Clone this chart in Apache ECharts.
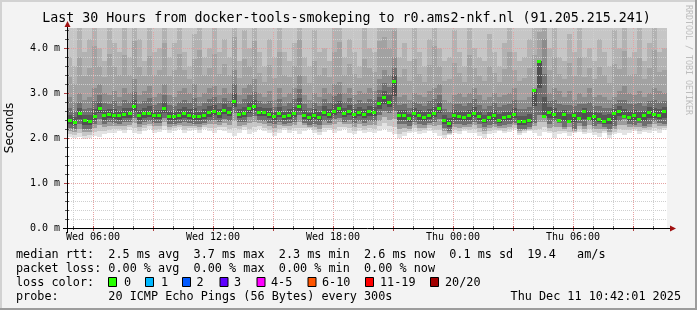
<!DOCTYPE html>
<html><head><meta charset="utf-8">
<script src="https://cdn.jsdelivr.net/npm/echarts@6/dist/echarts.min.js"></script>
<style>html,body{margin:0;padding:0;background:#f3f3f3}#c{width:697px;height:310px}</style>
</head><body><div id="c"></div>
<script>
// ---- data ----
const startHour = 4.7;    // Wed 04:42
const endHour = 34.7;     // Thu 10:42
const stepHours = 0.25;   // 15 min columns
const xTickHours = [6, 12, 18, 24, 30];
const xTickLabels = ['Wed 06:00', 'Wed 12:00', 'Wed 18:00', 'Thu 00:00', 'Thu 06:00'];
const yTicks = [0, 1, 2, 3, 4];
const yTickLabels = ['0.0 m', '1.0 m', '2.0 m', '3.0 m', '4.0 m'];
const yMax = 4.444;

// median rtt (ms)
const median = [
  2.39,2.36,2.55,2.39,2.37,2.48,2.67,2.50,2.53,2.52,
  2.50,2.53,2.55,2.70,2.50,2.55,2.55,2.52,2.50,2.67,
  2.48,2.49,2.50,2.55,2.52,2.49,2.48,2.52,2.57,2.60,2.55,
  2.63,2.58,2.83,2.53,2.56,2.67,2.70,2.58,2.58,2.53,
  2.48,2.56,2.48,2.52,2.56,2.72,2.52,2.46,2.52,2.46,
  2.58,2.53,2.61,2.67,2.56,2.61,2.53,2.58,2.53,2.59,
  2.58,2.78,2.90,2.81,3.27,2.52,2.50,2.44,2.56,2.50,
  2.46,2.52,2.56,2.67,2.41,2.33,2.50,2.48,2.46,2.50,
  2.56,2.48,2.41,2.46,2.50,2.41,2.46,2.48,2.53,2.37,
  2.37,2.41,3.07,3.70,2.48,2.58,2.53,2.41,2.53,2.37,
  2.52,2.44,2.59,2.44,2.48,2.43,2.37,2.43,2.56,2.61,
  2.48,2.46,2.52,2.43,2.50,2.58,2.53,2.50,2.59
];
// lowest ping (bottom edge of smoke)
const smokeLow = [
  2.02,2.00,2.03,1.98,2.00,2.05,2.02,2.08,2.10,2.12,
  2.15,2.10,2.18,2.12,2.08,2.15,2.20,2.10,2.14,2.18,
  2.12,2.16,2.20,2.10,2.15,2.18,2.12,2.20,2.16,2.12,2.18,
  2.15,2.10,2.05,2.12,2.18,2.08,2.14,2.20,2.15,2.10,
  2.04,2.12,2.18,2.10,2.15,2.08,2.16,2.20,2.12,2.06,
  2.14,2.18,2.10,2.15,2.20,2.12,2.08,2.16,2.10,2.14,
  2.10,2.16,2.20,2.14,2.08,2.00,2.05,2.10,2.14,2.08,
  2.12,2.16,2.10,2.05,2.00,2.06,2.12,2.08,2.15,2.10,
  2.12,2.05,2.00,2.08,2.12,2.15,2.10,2.14,2.18,2.06,
  2.12,2.15,2.10,2.05,2.14,2.10,2.00,2.08,2.12,2.04,
  2.10,2.14,2.08,2.12,2.06,2.02,2.10,2.00,2.08,2.12,
  2.06,2.12,2.15,2.08,2.14,2.10,2.16,2.12,2.18
];
// lower edge of dense (dark) smoke
const smokeQ1 = [
  2.22,2.20,2.30,2.20,2.20,2.30,2.42,2.32,2.35,2.33,
  2.32,2.35,2.36,2.45,2.32,2.36,2.38,2.34,2.33,2.45,
  2.30,2.32,2.33,2.36,2.34,2.30,2.30,2.34,2.38,2.40,2.36,
  2.42,2.38,2.55,2.35,2.36,2.46,2.48,2.40,2.38,2.34,
  2.30,2.36,2.30,2.34,2.36,2.50,2.34,2.28,2.32,2.28,
  2.38,2.34,2.42,2.45,2.36,2.40,2.34,2.38,2.34,2.38,
  2.38,2.50,2.60,2.55,2.60,2.30,2.30,2.26,2.36,2.30,
  2.28,2.34,2.36,2.42,2.22,2.15,2.30,2.30,2.28,2.32,
  2.36,2.30,2.24,2.28,2.32,2.26,2.28,2.30,2.34,2.20,
  2.20,2.24,2.34,2.50,2.60,2.30,2.38,2.34,2.24,2.34,
  2.20,2.34,2.26,2.38,2.26,2.30,2.25,2.20,2.26,2.38,
  2.42,2.30,2.28,2.34,2.26,2.32,2.38,2.34,2.30
];
// upper edge of dense (mid-grey) smoke
const smokeQ3 = [
  2.90,2.80,3.00,2.85,2.90,3.10,3.20,3.00,2.95,3.05,
  2.90,3.10,3.00,3.30,2.95,3.05,3.15,2.90,3.00,3.20,
  2.95,2.90,3.05,3.10,3.00,3.20,2.90,3.00,3.10,3.15,2.95,
  3.10,3.00,3.50,2.95,3.10,3.20,3.30,3.00,2.90,3.05,
  2.85,3.10,2.90,3.00,3.10,3.40,2.95,2.85,3.00,2.90,
  3.10,3.00,3.20,3.25,3.00,3.10,2.95,3.05,3.00,3.10,
  3.05,3.30,3.50,3.40,3.80,2.90,2.95,2.85,3.00,2.95,
  2.90,3.05,3.10,3.20,2.85,2.80,2.95,3.00,2.90,3.00,
  3.10,2.95,2.85,2.90,3.00,2.90,2.95,3.00,3.10,2.85,
  2.85,2.90,3.10,3.50,4.20,3.00,3.10,3.05,2.90,3.05,
  2.85,3.00,2.90,3.10,2.90,2.95,2.90,2.85,2.90,3.05,
  3.15,3.00,2.95,3.05,2.90,3.00,3.10,3.05,3.00
];
// upper envelope of the light smoke
const smokeHigh = [
  3.8,3.6,4.6,3.9,4.2,5.0,4.0,3.7,4.8,4.1,
  3.9,4.6,3.8,5.0,4.2,3.7,4.5,3.9,4.0,5.0,
  3.8,4.1,4.7,3.9,3.6,4.3,5.0,3.8,4.0,4.6,3.9,
  4.2,3.8,5.0,3.7,4.4,4.0,5.0,3.9,3.6,4.2,
  3.8,4.7,3.9,3.7,4.1,5.0,3.8,3.6,4.4,3.9,
  4.0,3.7,4.6,5.0,3.8,4.2,3.9,3.6,4.5,4.0,
  3.9,5.0,5.0,4.6,5.0,3.8,4.1,3.7,4.5,3.9,
  3.6,4.2,5.0,4.0,3.7,3.8,4.4,3.9,3.6,4.7,
  4.0,3.8,3.7,4.3,3.9,3.6,4.1,4.8,3.9,3.7,
  3.8,4.2,4.6,5.0,5.0,4.0,4.5,3.8,3.7,4.3,
  3.9,4.6,3.8,4.0,3.7,4.2,3.9,3.6,4.4,4.0,
  4.7,3.8,3.9,4.5,3.7,4.1,4.8,3.9,4.0
];

// legend texts
const titleText = 'Last 30 Hours from docker-tools-smokeping to r0.ams2-nkf.nl (91.205.215.241)';
const legendLines = [
  'median rtt:  2.5 ms avg  3.7 ms max  2.3 ms min  2.6 ms now  0.1 ms sd  19.4   am/s',
  'packet loss: 0.00 % avg  0.00 % max  0.00 % min  0.00 % now',
  'loss color:',
  'probe:       20 ICMP Echo Pings (56 Bytes) every 300s'
];
const lossLabels = ['0', '1', '2', '3', '4-5', '6-10', '11-19', '20/20'];
const lossColors = ['#26ff00', '#00b8ff', '#0059ff', '#5e00ff', '#ff00ff', '#ff5500', '#ff0000', '#a10000'];
const dateText = 'Thu Dec 11 10:42:01 2025';

// ---- chart ----
const n = Math.min(median.length, smokeLow.length, smokeQ1.length, smokeQ3.length, smokeHigh.length);
const smokeData = [];
for (let i = 0; i < n; i++) {
  smokeData.push([startHour + i * stepHours, smokeLow[i], smokeQ1[i], median[i], smokeQ3[i], smokeHigh[i]]);
}
const clampV = v => Math.max(0, Math.min(yMax, v));

function smokeItem(params, api) {
  const t0 = api.value(0), t1 = Math.min(endHour, t0 + stepHours);
  const m = api.value(3);
  const l = Math.min(api.value(1), m);
  const a = Math.min(Math.max(api.value(2), l), m);
  const b = Math.max(api.value(4), m);
  const h = Math.max(api.value(5), b);
  const f = (p, q, r) => p + (q - p) * r;
  const bands = [
    [l, f(l, a, 0.33), '#e3e3e3'],
    [f(l, a, 0.33), f(l, a, 0.66), '#c6c6c6'],
    [f(l, a, 0.66), a, '#9c9c9c'],
    [a, f(a, m, 0.5), '#6e6e6e'],
    [f(a, m, 0.5), m, '#505050'],
    [m, f(m, b, 0.25), '#575757'],
    [f(m, b, 0.25), f(m, b, 0.55), '#717171'],
    [f(m, b, 0.55), b, '#8c8c8c'],
    [b, f(b, h, 0.5), '#a2a2a2'],
    [f(b, h, 0.5), h, '#b2b2b2'],
    [h, yMax, '#c6c6c6']
  ];
  const children = [];
  for (const [v0, v1, c] of bands) {
    const lo = clampV(v0), hi = clampV(v1);
    if (hi <= lo) continue;
    const p0 = api.coord([t0, hi]);
    const p1 = api.coord([t1, lo]);
    const y0 = Math.round(p0[1]), y1 = Math.round(p1[1]);
    if (y1 <= y0) continue;
    children.push({ type: 'rect', shape: { x: Math.round(p0[0]), y: y0, width: Math.round(p1[0]) - Math.round(p0[0]), height: y1 - y0 }, style: { fill: c } });
  }
  return { type: 'group', children };
}

function medianItem(params, api) {
  const t = api.value(0) + stepHours / 2;
  const p = api.coord([t, api.value(3)]);
  return { type: 'rect', shape: { x: Math.round(p[0]) - 2, y: Math.round(p[1]) - 1, width: 4, height: 3 }, style: { fill: lossColors[0] } };
}

function gridItem(params, api) {
  const children = [];
  const top = api.coord([startHour, yMax])[1];
  const bottom = api.coord([startHour, 0])[1];
  const left = api.coord([startHour, 0])[0];
  const right = api.coord([endHour, 0])[0];
  for (let h = Math.ceil(startHour); h <= endHour; h++) {
    const x = Math.round(api.coord([h, 0])[0]) + 0.5;
    const major = h % 3 === 0;
    children.push({ type: 'line', shape: { x1: x, y1: top, x2: x, y2: bottom }, style: { stroke: major ? '#e6a3a3' : '#cfcfcf', lineWidth: 1, lineDash: [1, 1] } });
    children.push({ type: 'line', shape: { x1: x, y1: bottom - 2, x2: x, y2: bottom + (major ? 3 : 2) }, style: { stroke: major ? '#b04040' : '#555', lineWidth: 1 } });
  }
  for (let k = 1; k * 0.2 <= yMax; k++) {
    const v = k * 0.2;
    const y = Math.round(api.coord([startHour, v])[1]) + 0.5;
    const major = k % 5 === 0;
    children.push({ type: 'line', shape: { x1: left, y1: y, x2: right, y2: y }, style: { stroke: major ? '#e6a3a3' : '#cfcfcf', lineWidth: 1, lineDash: [1, 1] } });
    children.push({ type: 'line', shape: { x1: left - (major ? 3 : 2), y1: y, x2: left + 2, y2: y }, style: { stroke: major ? '#b04040' : '#555', lineWidth: 1 } });
  }
  return { type: 'group', children };
}

const mono = 'DejaVu Sans Mono';
const graphic = [
  { type: 'rect', z: -10, shape: { x: 0, y: 0, width: 697, height: 310 }, style: { fill: '#f3f3f3' }, silent: true },
  { type: 'rect', shape: { x: 0, y: 0, width: 697, height: 2 }, style: { fill: '#d2d2d2' } },
  { type: 'rect', shape: { x: 0, y: 0, width: 2, height: 310 }, style: { fill: '#d2d2d2' } },
  { type: 'rect', shape: { x: 695, y: 0, width: 2, height: 310 }, style: { fill: '#9c9c9c' } },
  { type: 'rect', shape: { x: 0, y: 308, width: 697, height: 2 }, style: { fill: '#9c9c9c' } },
  { type: 'text', x: 346.5, y: 18.5, style: { text: titleText, font: '13.3px "DejaVu Sans Mono"', fill: '#000', align: 'center', verticalAlign: 'middle' } },
  { type: 'text', x: 10, y: 128, rotation: Math.PI / 2, style: { text: 'Seconds', font: '12px "DejaVu Sans"', fill: '#000', align: 'center', verticalAlign: 'middle' } },
  { type: 'text', x: 688, y: 60, rotation: -Math.PI / 2, style: { text: 'RRDTOOL / TOBI OETIKER', font: '8.3px "DejaVu Sans Mono"', fill: '#bdbdbd', align: 'center', verticalAlign: 'middle' } },
  // axes
  { type: 'line', z: 100, shape: { x1: 67.5, y1: 22, x2: 67.5, y2: 233 }, style: { stroke: '#000', lineWidth: 1 } },
  { type: 'line', z: 100, shape: { x1: 63, y1: 228.5, x2: 672, y2: 228.5 }, style: { stroke: '#000', lineWidth: 1 } },
  { type: 'polygon', z: 101, shape: { points: [[64.5, 27], [70.5, 27], [67.5, 21]] }, style: { fill: '#a01010' } },
  { type: 'polygon', z: 101, shape: { points: [[670, 225.5], [670, 231.5], [676, 228.5]] }, style: { fill: '#a01010' } }
];
const lineYs = [254.5, 268.5, 282.5, 296.5];
legendLines.forEach((t, i) => {
  graphic.push({ type: 'text', x: 16, y: lineYs[i], style: { text: t, font: '11.8px "DejaVu Sans Mono"', fill: '#000', align: 'left', verticalAlign: 'middle', whiteSpace: 'pre' } });
});
const swatchX = [108, 145, 182, 219.5, 256.5, 307.5, 365, 430];
const labelX = [124, 161, 196.5, 234, 271, 322, 380, 445];
lossLabels.forEach((t, i) => {
  graphic.push({ type: 'rect', shape: { x: swatchX[i] + 0.5, y: 277.5, width: 8, height: 9 }, style: { fill: lossColors[i], stroke: '#000', lineWidth: 1 } });
  graphic.push({ type: 'text', x: labelX[i], y: lineYs[2], style: { text: t, font: '11.8px "DejaVu Sans Mono"', fill: '#000', align: 'left', verticalAlign: 'middle' } });
});
graphic.push({ type: 'text', x: 681, y: lineYs[3], style: { text: dateText, font: '11.8px "DejaVu Sans Mono"', fill: '#000', align: 'right', verticalAlign: 'middle' } });

const chart = echarts.init(document.getElementById('c'), null, { renderer: 'canvas' });
chart.setOption({
  animation: false,
  backgroundColor: '#f3f3f3',
  graphic,
  grid: { left: 67, top: 28, width: 600, height: 200, show: true, backgroundColor: '#ffffff', borderWidth: 0 },
  xAxis: {
    type: 'value', min: startHour, max: endHour,
    axisLine: { show: false }, axisTick: { show: false }, splitLine: { show: false },
    axisLabel: {
      customValues: xTickHours, margin: 4,
      formatter: v => xTickLabels[xTickHours.indexOf(Math.round(v))] || '',
      fontFamily: mono, fontSize: 10, color: '#000'
    }
  },
  yAxis: {
    type: 'value', min: 0, max: yMax,
    axisLine: { show: false }, axisTick: { show: false }, splitLine: { show: false },
    axisLabel: {
      customValues: yTicks, margin: 7,
      formatter: v => yTickLabels[yTicks.indexOf(Math.round(v))] || '',
      fontFamily: mono, fontSize: 10, color: '#000'
    }
  },
  series: [
    { type: 'custom', z: 2, renderItem: smokeItem, data: smokeData, encode: { x: 0, y: 3 }, silent: true },
    { type: 'custom', z: 3, renderItem: gridItem, data: [[startHour, 0]], silent: true },
    { type: 'custom', z: 4, renderItem: medianItem, data: smokeData, encode: { x: 0, y: 3 }, silent: true }
  ]
});
</script>
</body></html>
